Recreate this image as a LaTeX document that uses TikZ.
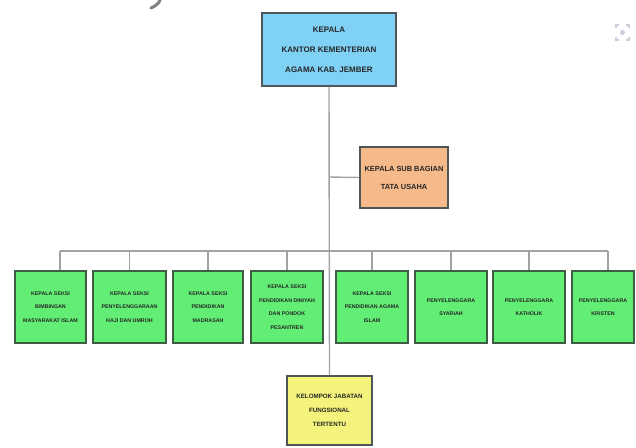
\documentclass[tikz,border=0pt]{standalone}
\usepackage{fontspec}
\setmainfont{Liberation Sans}
\definecolor{bluefill}{HTML}{7FD2F6}
\definecolor{orangefill}{HTML}{F5B98A}
\definecolor{greenfill}{HTML}{62EE74}
\definecolor{yellowfill}{HTML}{F4F47C}
\definecolor{boxedge}{HTML}{4E5658}
\definecolor{greenedge}{HTML}{3E5E44}
\definecolor{linegray}{HTML}{A2A2A2}
\definecolor{icongray}{HTML}{C9CED8}
\begin{document}
\begin{tikzpicture}[x=1pt,y=-1pt,
  orgbox/.style={draw=boxedge,line width=1.8pt,inner sep=0pt,align=center,text=black!85},
  headbox/.style={orgbox,fill=bluefill,minimum width=134pt,minimum height=73pt,font=\bfseries\fontsize{8}{20}\selectfont},
  tubox/.style={orgbox,fill=orangefill,minimum width=88pt,minimum height=61pt,font=\bfseries\fontsize{7.4}{18}\selectfont},
  seksibox/.style={orgbox,draw=greenedge,fill=greenfill,minimum height=72pt,font=\bfseries\fontsize{5.3}{13.5}\selectfont},
  fungbox/.style={orgbox,fill=yellowfill,minimum width=85pt,minimum height=69pt,font=\bfseries\fontsize{6.2}{14}\selectfont},
  conn/.style={draw=linegray,line width=1.4pt}]
\useasboundingbox (0,0) rectangle (636,447);
\fill[white] (0,0) rectangle (636,447);

% cropped fragment at top left
\draw[gray,line width=3pt,line cap=round] (160,0) .. controls (159,3) and (156,6) .. (151,8);

% faint icon at top right
\begin{scope}[icongray,line width=1.3pt]
\draw (616,28) -- (616,25) -- (619,25);
\draw (626,25) -- (629,25) -- (629,28);
\draw (629,37) -- (629,40) -- (626,40);
\draw (619,40) -- (616,40) -- (616,37);
\fill (622.5,32.5) circle (2.5pt);
\end{scope}

\coordinate (bL) at (60,251);
\coordinate (bR) at (608,251);
\coordinate (spine) at (329,177);

\node[headbox] (head) at (329,49.5) {KEPALA\\KANTOR KEMENTERIAN\\AGAMA KAB. JEMBER};
\node[tubox] (tu) at (404,177.5) {KEPALA SUB BAGIAN\\TATA USAHA};
\node[fungbox] (fung) at (329.5,410.5) {KELOMPOK JABATAN\\FUNGSIONAL\\TERTENTU};

\node[seksibox,minimum width=71pt] (s1) at (50.5,307) {KEPALA SEKSI\\BIMBINGAN\\MASYARAKAT ISLAM};
\node[seksibox,minimum width=73pt] (s2) at (129.5,307) {KEPALA SEKSI\\PENYELENGGARAAN\\HAJI DAN UMROH};
\node[seksibox,minimum width=70pt] (s3) at (208,307) {KEPALA SEKSI\\PENDIDIKAN\\MADRASAH};
\node[seksibox,minimum width=72pt] (s4) at (287,307) {KEPALA SEKSI\\PENDIDIKAN DINIYAH\\DAN PONDOK\\PESANTREN};
\node[seksibox,minimum width=72pt] (s5) at (372,307) {KEPALA SEKSI\\PENDIDIKAN AGAMA\\ISLAM};
\node[seksibox,minimum width=72pt] (s6) at (451,307) {PENYELENGGARA\\SYARIAH};
\node[seksibox,minimum width=72pt] (s7) at (529,307) {PENYELENGGARA\\KATHOLIK};
\node[seksibox,minimum width=62pt] (s8) at (603,307) {PENYELENGGARA\\KRISTEN};

\path[conn] (head.south) -- (fung.north);
\path[conn] (spine) -- (tu.west);
\path[conn] (bL) -- (bR);
\path[conn] (bL) -- (bL |- s1.north);
\path[conn] (s2.north |- bL) -- (s2.north);
\path[conn] (s3.north |- bL) -- (s3.north);
\path[conn] (s4.north |- bL) -- (s4.north);
\path[conn] (s5.north |- bL) -- (s5.north);
\path[conn] (s6.north |- bL) -- (s6.north);
\path[conn] (s7.north |- bL) -- (s7.north);
\path[conn] (bR) -- (bR |- s8.north);
\end{tikzpicture}
\end{document}
